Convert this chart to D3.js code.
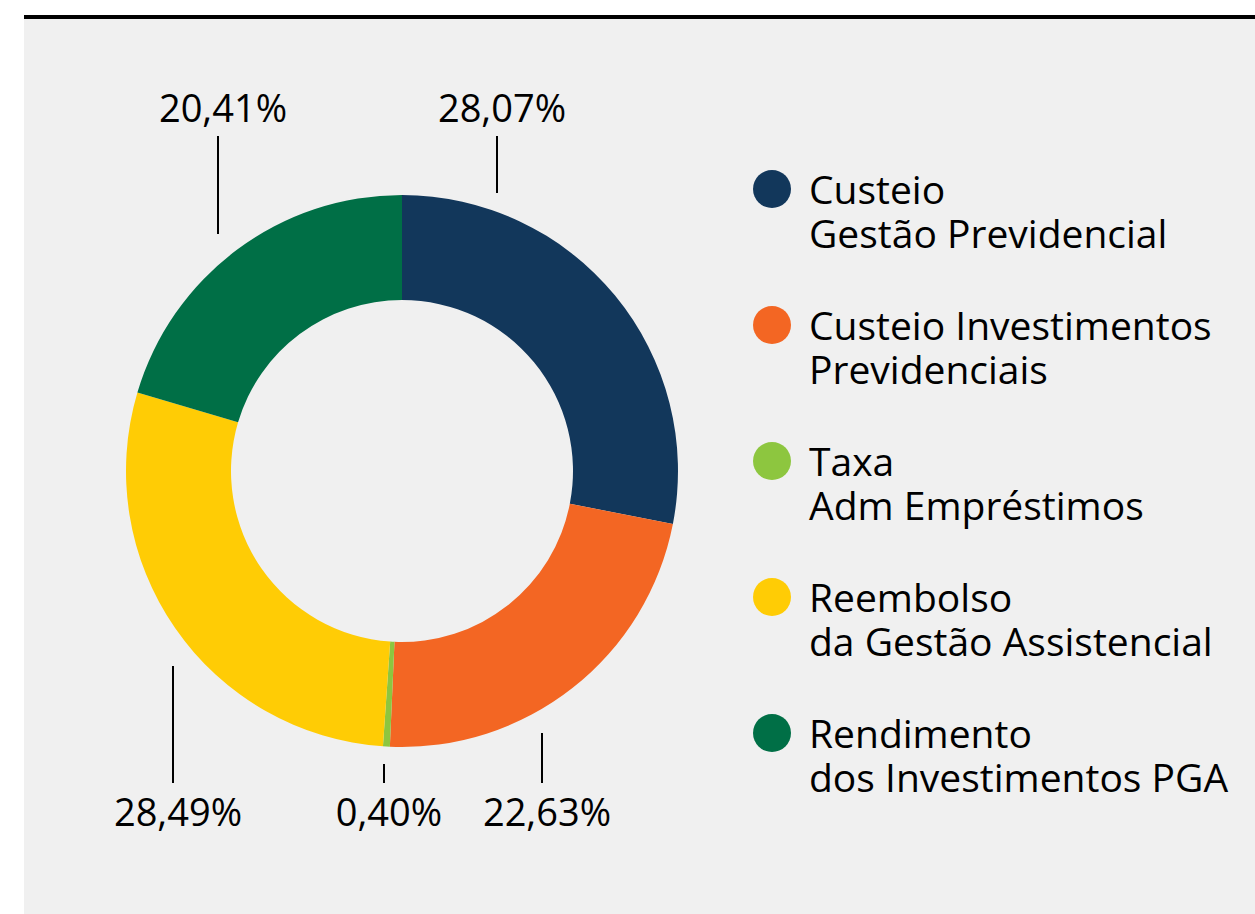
<!DOCTYPE html>
<html>
<head>
<meta charset="utf-8">
<script src="https://cdn.jsdelivr.net/npm/d3@7"></script>
<style>
  html, body { margin: 0; padding: 0; background: #ffffff; }
  svg { display: block; }
  text { font-family: "Open Sans", "Noto Sans", sans-serif; fill: #000; }
</style>
</head>
<body>
<svg id="chart" width="1255" height="914"></svg>
<script>
// Composition of administrative revenue (%)
const categories = [
  ["Custeio", "Gestão Previdencial"],
  ["Custeio Investimentos", "Previdenciais"],
  ["Taxa", "Adm Empréstimos"],
  ["Reembolso", "da Gestão Assistencial"],
  ["Rendimento", "dos Investimentos PGA"]
];
const values = [28.07, 22.63, 0.40, 28.49, 20.41];
const colors = ["#12375b", "#f36623", "#8dc63f", "#ffcc05", "#006f46"];

// Placement of each value label: leader line x, its top/bottom, and text baseline
const labelLayout = [
  { x: 497, y1: 136, y2: 193, ty: 122 },
  { x: 542, y1: 733, y2: 783, ty: 826 },
  { x: 384, y1: 764, y2: 783, ty: 826 },
  { x: 173, y1: 666, y2: 783, ty: 826 },
  { x: 218, y1: 136, y2: 234, ty: 122 }
];

const svg = d3.select("#chart");
const W = 1255, H = 914;

// panel background and top rule
svg.append("rect").attr("x", 24).attr("y", 17).attr("width", W - 24).attr("height", H - 17).attr("fill", "#f0f0f0");
svg.append("rect").attr("x", 24).attr("y", 15).attr("width", W - 24).attr("height", 4).attr("fill", "#000");

const cx = 402, cy = 471, rOuter = 276, rInner = 171;

const pie = d3.pie().sort(null).value(d => d);
const arc = d3.arc().innerRadius(rInner).outerRadius(rOuter);
const arcs = pie(values);

const g = svg.append("g").attr("transform", `translate(${cx},${cy})`);
g.selectAll("path")
  .data(arcs)
  .join("path")
  .attr("d", arc)
  .attr("fill", (d, i) => colors[i]);

const locale = d3.formatLocale({ decimal: ",", thousands: ".", grouping: [3], currency: ["", ""] });
const fmt = locale.format(".2f");

const labels = svg.append("g");
labels.selectAll("line")
  .data(arcs)
  .join("line")
  .attr("x1", (d, i) => labelLayout[i].x)
  .attr("x2", (d, i) => labelLayout[i].x)
  .attr("y1", (d, i) => labelLayout[i].y1)
  .attr("y2", (d, i) => labelLayout[i].y2)
  .attr("stroke", "#000")
  .attr("stroke-width", 2);

labels.selectAll("text")
  .data(arcs)
  .join("text")
  .attr("x", (d, i) => labelLayout[i].x + 5)
  .attr("y", (d, i) => labelLayout[i].ty)
  .attr("text-anchor", "middle")
  .attr("font-size", 38)
  .text(d => fmt(d.data) + "%");

// legend: colour dot followed by a two-line name
const legend = svg.append("g");
const item = legend.selectAll("g")
  .data(categories)
  .join("g")
  .attr("transform", (d, i) => `translate(0, ${204 + i * 136})`);

item.append("circle")
  .attr("cx", 772)
  .attr("cy", -15)
  .attr("r", 19)
  .attr("fill", (d, i) => colors[i]);

item.selectAll("text")
  .data(d => d)
  .join("text")
  .attr("x", 809)
  .attr("y", (d, j) => j * 44)
  .attr("font-size", 39)
  .text(d => d);
</script>
</body>
</html>
